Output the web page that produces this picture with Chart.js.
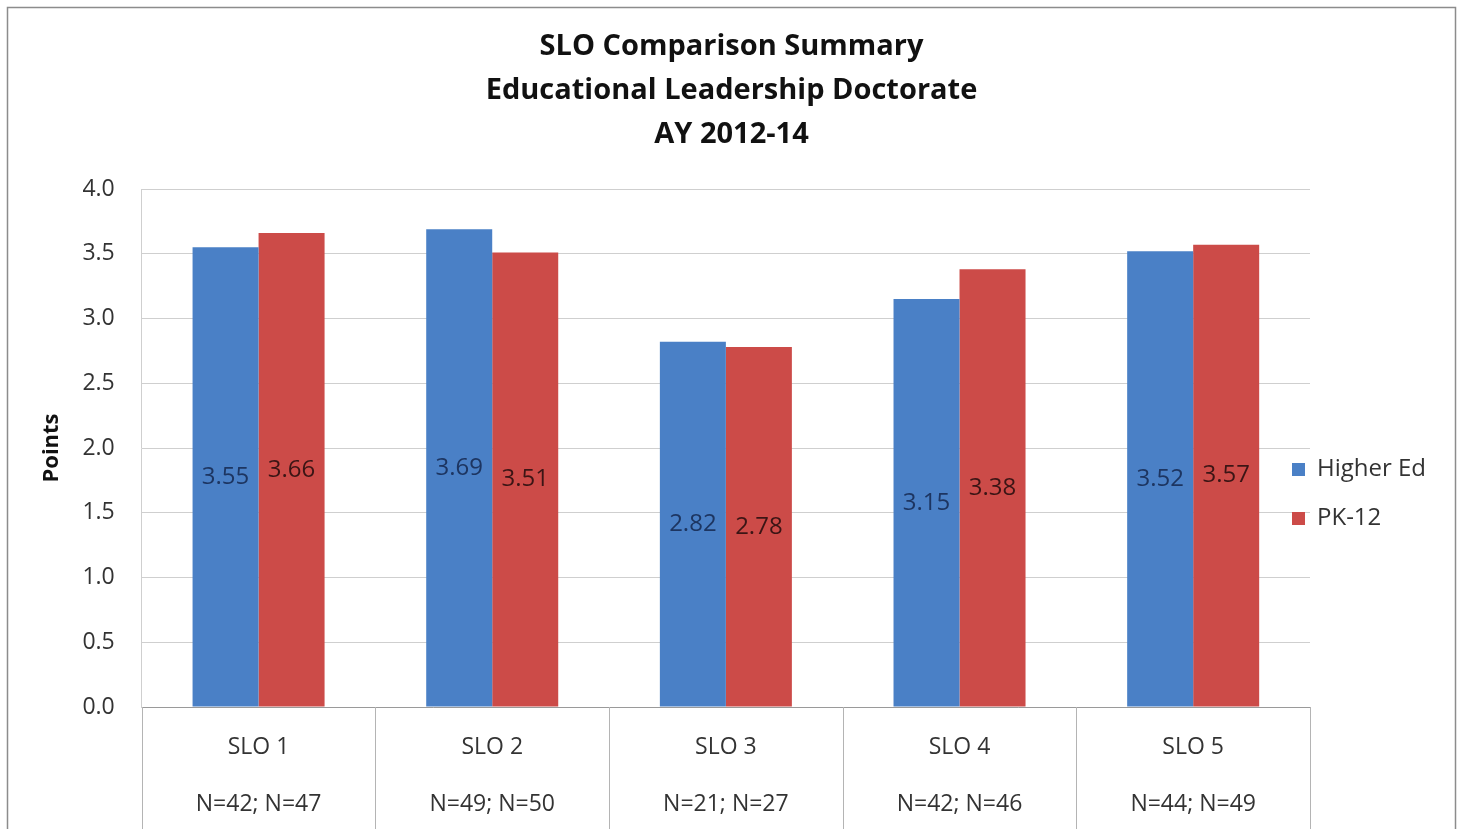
<!DOCTYPE html>
<html lang="en">

<head>
    <meta charset="utf-8">
    <title>SLO Comparison Summary</title>
    <style>
        html, body { margin: 0; padding: 0; background: #fff; }
        #wrap { width: 1463px; height: 829px; }
    </style>
</head>

<body>
    <div id="wrap"><canvas id="sloChart"></canvas></div>
    <script src="https://cdn.jsdelivr.net/npm/chart.js"></script>
    <script>
        // chart data
        const categories = [
            ['SLO 1', 'N=42; N=47'],
            ['SLO 2', 'N=49; N=50'],
            ['SLO 3', 'N=21; N=27'],
            ['SLO 4', 'N=42; N=46'],
            ['SLO 5', 'N=44; N=49']
        ];
        const higherEd = [3.55, 3.69, 2.82, 3.15, 3.52];
        const pk12 = [3.66, 3.51, 2.78, 3.38, 3.57];
        const titleLines = ['SLO Comparison Summary', 'Educational Leadership Doctorate', 'AY 2012-14'];

        Chart.defaults.font.family = '"Open Sans"';

        // white background + outer frame
        const framePlugin = {
            id: 'frame',
            beforeDraw(chart) {
                const c = chart.ctx;
                c.save();
                c.fillStyle = '#fff';
                c.fillRect(0, 0, chart.width, chart.height);
                c.strokeStyle = '#8c8c8c';
                c.lineWidth = 1.5;
                c.strokeRect(7.5, 7.5, chart.width - 15, chart.height + 20);
                c.restore();
            }
        };

        // move legend a bit into the plot, like the excel original
        // (left edge only, so the clip box gets wider instead of cutting the text)
        const legendShift = {
            id: 'legendShift',
            afterLayout(chart) {
                const lg = chart.legend;
                lg.left -= 43;
                lg.width = lg.right - lg.left;
                lg.top += 46; lg.bottom += 46;
            }
        };

        // category separators running down through the axis labels
        const separators = {
            id: 'separators',
            afterDraw(chart) {
                const xs = chart.scales.x;
                const n = xs.ticks.length;
                const w = (xs.right - xs.left) / n;
                const c = chart.ctx;
                c.save();
                c.strokeStyle = '#b4b4b4';
                c.lineWidth = 1;
                c.beginPath();
                for (let i = 0; i <= n; i++) {
                    const x = Math.round(xs.left + i * w) + 0.5;
                    c.moveTo(x, chart.chartArea.bottom);
                    c.lineTo(x, chart.height);
                }
                c.stroke();
                c.restore();
            }
        };

        // value labels in the middle of each bar
        const barLabels = {
            id: 'barLabels',
            afterDatasetsDraw(chart) {
                const c = chart.ctx;
                const colors = ['#1d3561', '#3b1515'];
                c.save();
                c.font = '24px "Open Sans"';
                c.textAlign = 'center';
                c.textBaseline = 'middle';
                chart.data.datasets.forEach((ds, i) => {
                    chart.getDatasetMeta(i).data.forEach((bar, j) => {
                        c.fillStyle = colors[i];
                        c.fillText(ds.data[j].toFixed(2), bar.x, (bar.y + bar.base) / 2);
                    });
                });
                c.restore();
            }
        };

        var ctx = document.getElementById('sloChart').getContext('2d');
        var sloChart = new Chart(ctx, {
            type: 'bar',
            data: {
                labels: categories,
                datasets: [{
                    label: 'Higher Ed',
                    data: higherEd,
                    backgroundColor: '#4a80c6',
                    borderWidth: 0
                }, {
                    label: 'PK-12',
                    data: pk12,
                    backgroundColor: '#cc4b48',
                    borderWidth: 0
                }]
            },
            options: {
                responsive: true,
                maintainAspectRatio: false,
                animation: false,
                categoryPercentage: 0.565,
                barPercentage: 1,
                layout: { padding: { left: 0, right: 0, top: 0, bottom: -4 } },
                plugins: {
                    title: {
                        display: true,
                        text: titleLines,
                        color: '#111',
                        font: { size: 29, weight: 'bold', lineHeight: '44px' },
                        padding: { top: 25, bottom: 32 }
                    },
                    legend: {
                        position: 'right',
                        fullSize: false,
                        maxWidth: 153,
                        labels: {
                            boxWidth: 13,
                            boxHeight: 13,
                            padding: 25,
                            color: '#333',
                            font: { size: 24 }
                        }
                    },
                    tooltip: { enabled: false }
                },
                scales: {
                    x: {
                        grid: {
                            offset: true,
                            drawOnChartArea: false,
                            drawTicks: true,
                            tickLength: 12,
                            color: 'rgba(0,0,0,0)'
                        },
                        border: { color: '#9a9a9a' },
                        ticks: {
                            color: '#333',
                            padding: 0,
                            font: { size: 23, lineHeight: '57px' }
                        }
                    },
                    y: {
                        min: 0,
                        max: 4,
                        grid: { color: '#cfcfcf', drawTicks: false },
                        border: { color: '#cfcfcf' },
                        ticks: {
                            stepSize: 0.5,
                            padding: 27,
                            color: '#333',
                            font: { size: 23 },
                            callback: v => v.toFixed(1)
                        },
                        title: {
                            display: true,
                            text: 'Points',
                            color: '#111',
                            font: { size: 22, weight: 'bold', lineHeight: 1.2 },
                            padding: { top: 39, bottom: -10 }
                        }
                    }
                }
            },
            plugins: [framePlugin, legendShift, separators, barLabels]
        });
    </script>
</body>

</html>
